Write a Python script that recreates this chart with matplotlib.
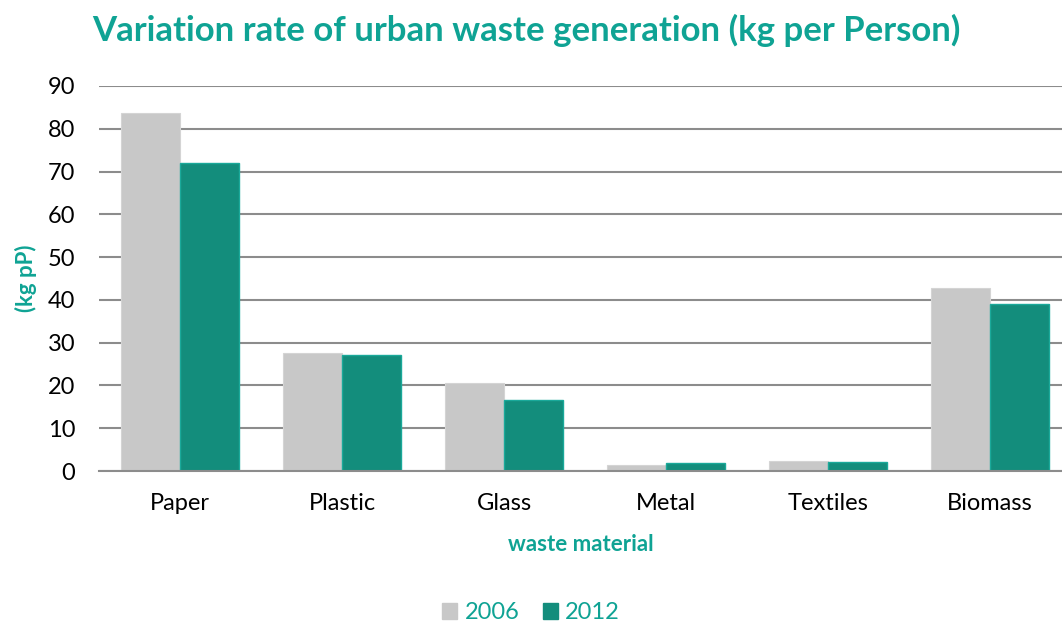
import matplotlib.pyplot as plt
from matplotlib.patches import Patch
import numpy as np

categories = ['Paper', 'Plastic', 'Glass', 'Metal', 'Textiles', 'Biomass']
vals_2006 = [83.6, 27.6, 20.6, 1.4, 2.3, 42.7]
vals_2012 = [72.0, 27.2, 16.7, 1.8, 2.0, 39.0]
yticks = [0, 10, 20, 30, 40, 50, 60, 70, 80, 90]

teal = '#0FA394'
grey = '#C8C8C8'
green = '#138D7C'

plt.rcParams['font.family'] = ['Lato', 'DejaVu Sans']

fig = plt.figure(figsize=(10.62, 6.24), dpi=100)
ax = fig.add_axes([99 / 1062, 153 / 624, 963 / 1062, 385 / 624])

x = np.arange(len(categories))
w = 0.365
ax.bar(x - w / 2, vals_2006, w, color=grey, edgecolor='#D4D4D4', linewidth=0.8, zorder=2)
ax.bar(x + w / 2, vals_2012, w, color=green, edgecolor='#1AA99A', linewidth=1.0, zorder=2)

ax.set_xlim(-0.5, -0.5 + 963 / 162)
ax.set_ylim(0, 90)
ax.set_yticks(yticks)
ax.set_xticks(x)
ax.set_xticklabels(categories)
ax.yaxis.grid(True, color='#8C8C8C', linewidth=1.5, zorder=1)
ax.set_axisbelow(True)
for s in ['top', 'right', 'left']:
    ax.spines[s].set_visible(False)
ax.spines['bottom'].set_color('#8C8C8C')
ax.spines['bottom'].set_linewidth(1.5)
ax.tick_params(axis='both', length=0, labelsize=17, colors='black')
ax.tick_params(axis='x', pad=16)
ax.tick_params(axis='y', pad=17)

ax.set_xlabel('waste material', color=teal, fontsize=16, fontweight='bold', labelpad=14)
ax.set_ylabel('(kg pP)', color=teal, fontsize=16, fontweight='bold', labelpad=8)

fig.text(0.496, 0.952, 'Variation rate of urban waste generation (kg per Person)',
         color=teal, fontsize=25, fontweight='bold', ha='center', va='center')

handles = [Patch(color=grey, label='2006'), Patch(color=green, label='2012')]
leg = fig.legend(handles=handles, loc='center', bbox_to_anchor=(0.5, 0.018), ncol=2,
                 frameon=False, fontsize=17, handlelength=0.65, handleheight=0.65,
                 handletextpad=0.3, columnspacing=1.0)
for t in leg.get_texts():
    t.set_color(teal)

fig.savefig('out.png', dpi=100)
